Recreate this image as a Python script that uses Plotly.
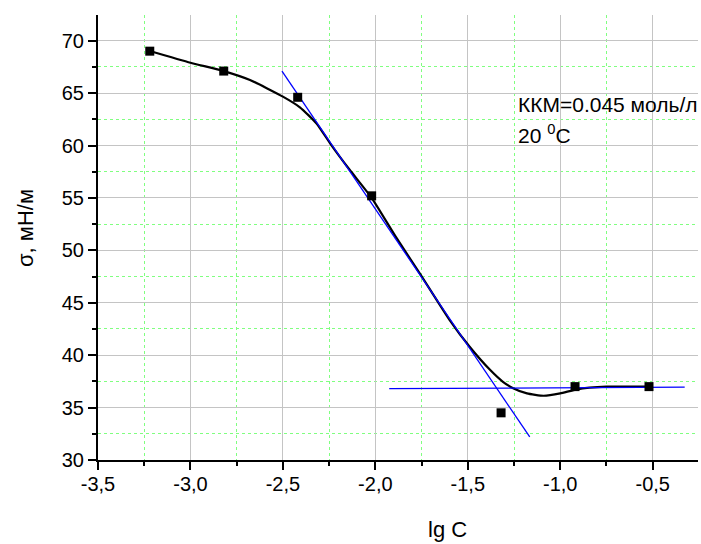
import plotly.graph_objects as go

# measured points
lgC = [-3.22, -2.82, -2.42, -2.02, -1.32, -0.92, -0.52]
sigma = [69.0, 67.1, 64.6, 55.2, 34.5, 37.0, 37.0]

# smooth fitted curve
curve_x = [-3.22, -3.00, -2.82, -2.678, -2.50, -2.408, -2.318, -2.242, -2.138, -2.02,
           -1.89, -1.76, -1.60, -1.49, -1.38, -1.31, -1.255, -1.18, -1.09, -1.00,
           -0.91, -0.75, -0.52]
curve_y = [69.02, 67.9, 67.1, 66.25, 64.66, 63.64, 62.1, 60.14, 57.66, 55.0,
           51.3, 47.8, 43.4, 40.8, 38.6, 37.46, 36.85, 36.35, 36.13, 36.35,
           36.74, 36.99, 37.0]

# tangent lines
tan1_x = [-2.505, -1.165]
tan1_y = [67.1, 32.2]
tan2_x = [-1.925, -0.327]
tan2_y = [36.8, 36.95]

x_tickvals = [-3.5, -3.0, -2.5, -2.0, -1.5, -1.0, -0.5]
x_ticktext = ["-3,5", "-3,0", "-2,5", "-2,0", "-1,5", "-1,0", "-0,5"]
y_tickvals = [30, 35, 40, 45, 50, 55, 60, 65, 70]

FONT = "Liberation Sans, Arial, sans-serif"

W, H = 701, 544
ML, MR, MT, MB = 98, 3, 15, 84
PW, PH = W - ML - MR, H - MT - MB


def px_to_paper(px, py):
    return (px - ML) / PW, (H - MB - py) / PH


fig = go.Figure()
fig.add_trace(go.Scatter(x=curve_x, y=curve_y, mode="lines",
                         line=dict(color="black", width=2.2, shape="spline", smoothing=0.5),
                         hoverinfo="skip"))
fig.add_trace(go.Scatter(x=tan1_x, y=tan1_y, mode="lines",
                         line=dict(color="#0000ff", width=1.3)))
fig.add_trace(go.Scatter(x=tan2_x, y=tan2_y, mode="lines",
                         line=dict(color="#0000ff", width=1.3)))
fig.add_trace(go.Scatter(x=lgC, y=sigma, mode="markers",
                         marker=dict(symbol="square", size=9, color="black")))

axis_common = dict(
    showline=True, linecolor="black", linewidth=2,
    ticks="outside", ticklen=8, tickwidth=1.5, tickcolor="black",
    showgrid=True, gridcolor="#c4c4c4", gridwidth=1.2,
    zeroline=False,
    tickfont=dict(family=FONT, size=20, color="black"),
)

fig.update_xaxes(**axis_common, range=[-3.5, -0.255],
                 tickvals=x_tickvals, ticktext=x_ticktext, ticklabelstandoff=-3,
                 minor=dict(dtick=0.25, tick0=-3.5, ticks="outside", ticklen=4,
                            tickcolor="black", showgrid=True,
                            gridcolor="#80ff80", griddash="dot", gridwidth=1))
fig.update_yaxes(**axis_common, range=[30, 72.45],
                 tickvals=y_tickvals,
                 minor=dict(dtick=2.5, tick0=30, ticks="outside", ticklen=4,
                            tickcolor="black", showgrid=True,
                            gridcolor="#80ff80", griddash="dot", gridwidth=1))

fig.add_annotation(x=-1.237, y=63.9, xref="x", yref="y", xanchor="left", yanchor="middle",
                   text="ККМ=0.045 моль/л", showarrow=False,
                   font=dict(family=FONT, size=21, color="black"))
fig.add_annotation(x=-1.237, y=61.1, xref="x", yref="y", xanchor="left", yanchor="middle",
                   text="20 <sup>0</sup>C", showarrow=False,
                   font=dict(family=FONT, size=21, color="black"))

# axis titles
tx, ty = px_to_paper(447, 529)
fig.add_annotation(x=tx, y=ty, xref="paper", yref="paper",
                   xanchor="center", yanchor="middle", text="lg C", showarrow=False,
                   font=dict(family=FONT, size=22, color="black"))
sx, sy = px_to_paper(25, 228)
fig.add_annotation(x=sx, y=sy, xref="paper", yref="paper",
                   xanchor="center", yanchor="middle", text="σ, мН/м", showarrow=False,
                   textangle=-90,
                   font=dict(family=FONT, size=22, color="black"))

fig.update_layout(
    width=W, height=H,
    margin=dict(l=ML, r=MR, t=MT, b=MB),
    paper_bgcolor="white", plot_bgcolor="white",
    showlegend=False,
    font=dict(family=FONT, color="black"),
)

fig.write_html("out.html", config={"displayModeBar": False},
               post_script="document.body.style.margin='0';")
